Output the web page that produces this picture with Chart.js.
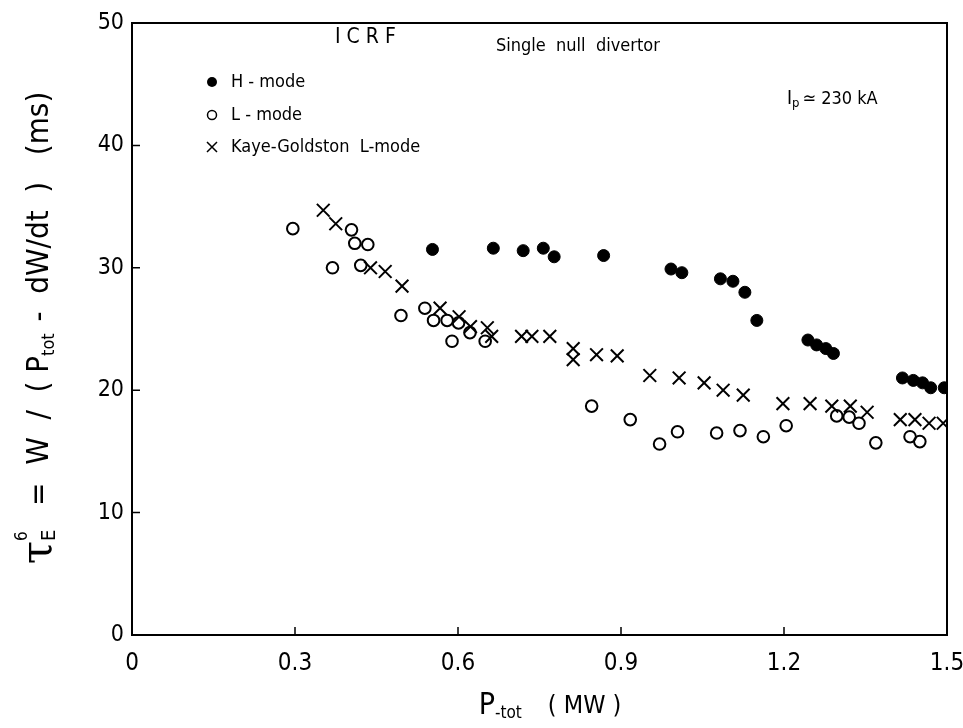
<!DOCTYPE html>
<html>
<head>
<meta charset="utf-8">
<script src="https://cdn.jsdelivr.net/npm/chart.js@4"></script>
<style>
  html, body { margin: 0; padding: 0; background: #fff; }
  #wrap { width: 963px; height: 728px; }
</style>
</head>
<body>
<div id="wrap"><canvas id="tauChart" width="963" height="728"></canvas></div>
<script>
// values
const hModeP   = [0.553, 0.665, 0.72, 0.757, 0.777, 0.868, 0.992, 1.012, 1.083, 1.106, 1.128, 1.150, 1.244, 1.260, 1.277, 1.291, 1.418, 1.438, 1.455, 1.470, 1.495];
const hModeTau = [31.5, 31.6, 31.4, 31.6, 30.9, 31.0, 29.9, 29.6, 29.1, 28.9, 28.0, 25.7, 24.1, 23.7, 23.4, 23.0, 21.0, 20.8, 20.6, 20.2, 20.2];

const lModeP   = [0.296, 0.369, 0.404, 0.410, 0.434, 0.421, 0.495, 0.539, 0.555, 0.580, 0.589, 0.601, 0.622, 0.650, 0.846, 0.917, 0.971, 1.004, 1.076, 1.119, 1.162, 1.204, 1.297, 1.320, 1.338, 1.369, 1.432, 1.450];
const lModeTau = [33.2, 30.0, 33.1, 32.0, 31.9, 30.2, 26.1, 26.7, 25.7, 25.7, 24.0, 25.5, 24.7, 24.0, 18.7, 17.6, 15.6, 16.6, 16.5, 16.7, 16.2, 17.1, 17.9, 17.8, 17.3, 15.7, 16.2, 15.8];

const kgP   = [0.352, 0.375, 0.439, 0.466, 0.497, 0.567, 0.602, 0.623, 0.654, 0.662, 0.717, 0.736, 0.769, 0.812, 0.812, 0.855, 0.893, 0.953, 1.007, 1.053, 1.088, 1.125, 1.198, 1.248, 1.288, 1.322, 1.353, 1.414, 1.441, 1.467, 1.493];
const kgTau = [34.7, 33.6, 30.0, 29.7, 28.5, 26.7, 26.0, 25.2, 25.1, 24.4, 24.4, 24.4, 24.4, 23.4, 22.5, 22.9, 22.8, 21.2, 21.0, 20.6, 20.0, 19.6, 18.9, 18.9, 18.7, 18.7, 18.2, 17.6, 17.6, 17.3, 17.3];

const xTicks = [0, 0.3, 0.6, 0.9, 1.2, 1.5];
const yTicks = [0, 10, 20, 30, 40, 50];

const FONT = "'Liberation Sans Narrow', 'DejaVu Sans Condensed', 'Liberation Sans', sans-serif";

function toPoints(xs, ys) {
    return xs.map((x, i) => ({ x: x, y: ys[i] }));
}

// draws a list of text runs one after another, optionally centred
function drawRuns(ctx, runs, x, y, align) {
    let total = 0;
    runs.forEach(r => {
        ctx.font = r.size + 'px ' + (r.family || FONT);
        r.w = r.stack ? 0 : ctx.measureText(r.t).width + (r.gap || 0);
        total += r.w;
    });
    let cx = align === 'center' ? x - total / 2 : x;
    let lastX = cx;
    runs.forEach(r => {
        ctx.font = r.size + 'px ' + (r.family || FONT);
        const px = r.stack ? lastX : cx;
        ctx.fillText(r.t, px, y + (r.dy || 0));
        if (!r.stack) { lastX = cx; cx += r.w; }
    });
}

const decorPlugin = {
    id: 'decor',
    afterDraw(chart) {
        const ctx = chart.ctx;
        const a = chart.chartArea;
        const xs = chart.scales.x, ys = chart.scales.y;
        ctx.save();
        ctx.strokeStyle = '#000';
        ctx.fillStyle = '#000';

        // top and right frame
        ctx.lineWidth = 2;
        ctx.beginPath();
        ctx.moveTo(a.left, a.top);
        ctx.lineTo(a.right, a.top);
        ctx.lineTo(a.right, a.bottom);
        ctx.stroke();

        // inward tick marks
        ctx.lineWidth = 1.5;
        ctx.beginPath();
        xTicks.forEach(v => {
            const px = xs.getPixelForValue(v);
            ctx.moveTo(px, a.bottom);
            ctx.lineTo(px, a.bottom - 8);
        });
        yTicks.forEach(v => {
            const py = ys.getPixelForValue(v);
            ctx.moveTo(a.left, py);
            ctx.lineTo(a.left + 8, py);
        });
        ctx.stroke();

        ctx.textBaseline = 'middle';
        ctx.textAlign = 'left';

        // annotations
        ctx.font = '21px ' + FONT;
        ctx.fillText('I C R F', 335, 38);
        ctx.font = '18px ' + FONT;
        ctx.fillText('Single  null  divertor', 496, 46);

        // legend
        ctx.beginPath();
        ctx.arc(212, 82, 5, 0, Math.PI * 2);
        ctx.fill();
        ctx.font = '18px ' + FONT;
        ctx.fillText('H - mode', 231, 82);
        ctx.lineWidth = 1.5;
        ctx.beginPath();
        ctx.arc(212, 115, 4.5, 0, Math.PI * 2);
        ctx.stroke();
        ctx.fillText('L - mode', 231, 115);
        ctx.beginPath();
        ctx.moveTo(207, 142); ctx.lineTo(217, 152);
        ctx.moveTo(217, 142); ctx.lineTo(207, 152);
        ctx.stroke();
        ctx.fillText('Kaye-Goldston  L-mode', 231, 147);

        // plasma current
        drawRuns(ctx, [
            { t: 'I', size: 19 },
            { t: 'p', size: 13, dy: 5, gap: 3 },
            { t: '\u2243 230 kA', size: 18 }
        ], 787, 99, 'left');

        // x title
        drawRuns(ctx, [
            { t: 'P', size: 30 },
            { t: '-tot', size: 17, dy: 8, gap: 26 },
            { t: '( MW )', size: 25 }
        ], 550, 706, 'center');

        // y title, rotated
        ctx.translate(40, 328);
        ctx.rotate(-Math.PI / 2);
        drawRuns(ctx, [
            { t: '\u03C4', size: 42, family: "'DejaVu Serif', serif" },
            { t: 'E', size: 20, dy: 10, gap: 6 },
            { t: '6', size: 17, dy: -17, stack: true },
            { t: '  =  W  /  ( P', size: 31 },
            { t: 'tot', size: 18, dy: 9, gap: 3 },
            { t: ' -  dW/dt  )   (ms)', size: 31 }
        ], 0, 0, 'center');
        ctx.restore();
    }
};

const ctx = document.getElementById('tauChart').getContext('2d');
new Chart(ctx, {
    type: 'scatter',
    data: {
        datasets: [
            {
                label: 'H-mode',
                data: toPoints(hModeP, hModeTau),
                pointStyle: 'circle',
                pointRadius: 6,
                backgroundColor: '#000',
                borderColor: '#000',
                borderWidth: 1
            },
            {
                label: 'L-mode',
                data: toPoints(lModeP, lModeTau),
                pointStyle: 'circle',
                pointRadius: 5.8,
                backgroundColor: 'rgba(255,255,255,0)',
                borderColor: '#000',
                borderWidth: 2
            },
            {
                label: 'Kaye-Goldston L-mode',
                data: toPoints(kgP, kgTau),
                pointStyle: 'crossRot',
                pointRadius: 9,
                borderColor: '#000',
                borderWidth: 2
            }
        ]
    },
    options: {
        responsive: false,
        animation: false,
        devicePixelRatio: 1,
        layout: { padding: { top: 23, right: 0, left: 0, bottom: 0 } },
        plugins: {
            legend: { display: false },
            tooltip: { enabled: false }
        },
        scales: {
            x: {
                type: 'linear',
                min: 0,
                max: 1.5,
                afterBuildTicks: scale => { scale.ticks = xTicks.map(v => ({ value: v })); },
                afterFit: scale => {
                    scale.height = 93;
                    scale.paddingLeft = 0;
                    scale.paddingRight = 16;
                },
                grid: { display: false, drawTicks: false },
                border: { display: true, color: '#000', width: 2 },
                ticks: {
                    color: '#000',
                    padding: 14,
                    maxRotation: 0,
                    font: { family: FONT, size: 24 },
                    callback: v => v === 0 ? '0' : v.toFixed(1)
                }
            },
            y: {
                min: 0,
                max: 50,
                afterBuildTicks: scale => { scale.ticks = yTicks.map(v => ({ value: v })); },
                afterFit: scale => {
                    scale.width = 132;
                    scale.paddingTop = 0;
                    scale.paddingBottom = 0;
                },
                grid: { display: false, drawTicks: false },
                border: { display: true, color: '#000', width: 2 },
                ticks: {
                    color: '#000',
                    padding: 8,
                    font: { family: FONT, size: 23 }
                }
            }
        }
    },
    plugins: [decorPlugin]
});
</script>
</body>
</html>
